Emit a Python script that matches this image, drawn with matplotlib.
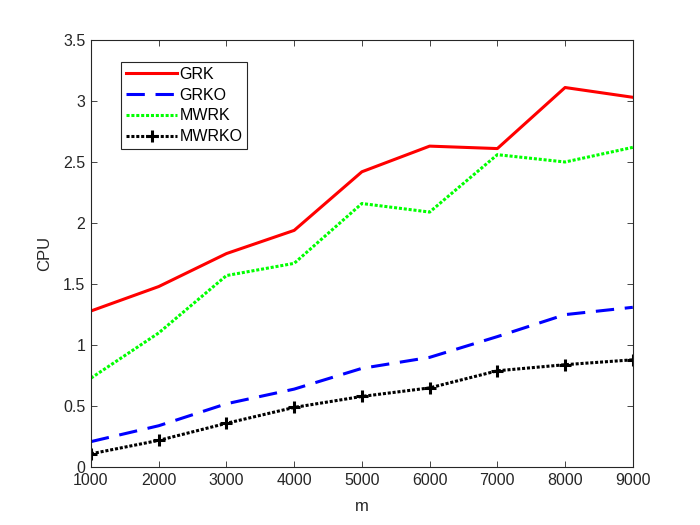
import matplotlib
matplotlib.use('Agg')
import matplotlib.pyplot as plt

m = [1000, 2000, 3000, 4000, 5000, 6000, 7000, 8000, 9000]
grk = [1.28, 1.48, 1.75, 1.94, 2.42, 2.63, 2.61, 3.11, 3.03]
grko = [0.21, 0.34, 0.52, 0.64, 0.81, 0.90, 1.07, 1.25, 1.31]
mwrk = [0.73, 1.10, 1.57, 1.67, 2.16, 2.09, 2.56, 2.50, 2.62]
mwrko = [0.11, 0.22, 0.36, 0.49, 0.58, 0.65, 0.79, 0.84, 0.88]

plt.rcParams['font.family'] = ['Liberation Sans', 'DejaVu Sans']
plt.rcParams['font.size'] = 11.5

fig = plt.figure(figsize=(7, 5.25), dpi=100)
ax = fig.add_axes([0.13, 0.11, 0.774, 0.814])

ax.plot(m, grk, color='#ff0000', linestyle='-', linewidth=2.2, label='GRK')
ax.plot(m, grko, color='#0000ff', linestyle=(0, (6, 3.5)), linewidth=2.2, label='GRKO')
ax.plot(m, mwrk, color='#00ff00', linestyle=(0, (1, 0.6)), linewidth=2.2, label='MWRK')
ax.plot(m, mwrko, color='black', linestyle=(0, (1, 0.6)), linewidth=2.2,
        marker='+', markersize=8, markeredgewidth=2.2, label='MWRKO')

ax.set_xlim(1000, 9000)
ax.set_ylim(0, 3.5)
ax.set_xticks(m)
ax.set_yticks([0, 0.5, 1, 1.5, 2, 2.5, 3, 3.5])
ax.set_yticklabels(['0', '0.5', '1', '1.5', '2', '2.5', '3', '3.5'])
ax.tick_params(direction='in', top=True, right=True, length=4, width=0.6,
               colors='#262626', labelsize=11.5, pad=4)
for s in ax.spines.values():
    s.set_linewidth(0.8)
    s.set_color('#262626')

ax.set_xlabel('m', fontsize=12, color='#262626', labelpad=8)
ax.set_ylabel('CPU', fontsize=12, color='#262626', labelpad=8)

leg = ax.legend(loc='upper left', bbox_to_anchor=(0.056, 0.948), fancybox=False,
                framealpha=1, edgecolor='#262626', handlelength=3.2,
                borderpad=0.3, labelspacing=0.36, handletextpad=0.15,
                borderaxespad=0, fontsize=11.5)
leg.get_frame().set_linewidth(0.8)

fig.savefig('out.png', dpi=100)
